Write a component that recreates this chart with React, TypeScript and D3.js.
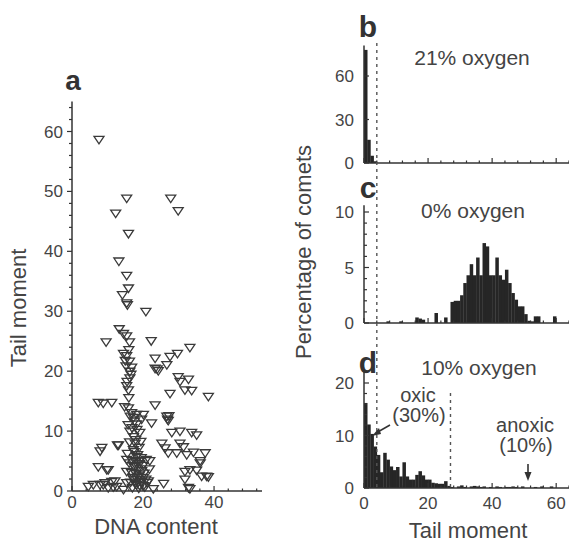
import React from "react";
import * as d3 from "d3";

// panel a: DNA content vs tail moment (one triangle per comet)
const dnaContent = [
  7.6, 12.3, 15.4, 15.9, 27.8, 29.9, 13.2, 15.4, 15.9, 14.2, 15.4,
  15.6, 20.8, 13.3, 14.5, 15.4, 16.2, 9.6, 22.3, 14.5, 15.4, 16.2, 16.8, 23.4, 27.6, 29.7, 33.2,
  26.7, 23.4, 24.3, 16.3, 16.3, 29.9, 32.8, 30.4, 31.8, 33.7, 15.4, 15.9, 27.6, 38.4,
  8.8, 11.2, 7.4, 23.4, 15.9, 16.8, 18.2, 20.1, 17.3, 19.6, 22.4, 26.7, 27.1, 18.2,
  16.3, 19.1, 28.1, 30.4, 33.7, 35.1, 17.3, 17.8, 12.8, 25.3, 26.2, 30.4, 31.4, 27.1, 29.5,
  32.3, 34.2, 37.5, 17.3, 18.2, 15.4, 19.1, 21.9, 17.3, 15.4, 9.8, 36.1, 31.8, 33.2, 35.1,
  37.9, 36.5, 31.8, 18.7, 17.3, 20.1, 21.5, 25.8, 12.1, 9.3, 7.9, 20.1, 22.9, 32.8, 18.2, 11.6,
  7.9, 8.4, 13.1, 7.4, 10.2, 6.0, 8.8, 11.2, 4.6, 12.6, 15.4, 10.2, 14.5,
  33.2, 36.1, 38.4, 26.9, 27.3, 24.0,
  17.5, 18.5, 19.5, 17.0, 18.0, 19.0, 20.0, 17.6, 18.6, 19.6, 16.8, 18.0, 19.0, 20.3, 17.2,
  18.4, 19.6, 20.8, 16.5, 17.8, 19.0, 20.5, 21.2, 18.8, 17.0, 21.8, 20.9, 18.9, 17.9, 19.4,
  16.9, 18.3, 17.6, 16.4, 15.8, 16.2, 15.6, 16.1,
  16.0, 15.5, 16.6, 15.2, 16.0, 15.0, 14.8,
];
const tailMoment = [
  58.6, 46.3, 48.8, 42.9, 48.8, 46.7, 38.3, 35.9, 33.8, 32.7, 31.3,
  31.0, 29.9, 27.0, 26.2, 25.8, 24.8, 24.8, 25.0, 22.9, 22.5, 21.6, 20.6, 22.1, 22.4, 22.9, 23.9,
  21.0, 20.4, 20.0, 19.9, 18.8, 19.0, 18.6, 18.2, 16.8, 16.7, 17.5, 16.8, 16.2, 15.7,
  14.6, 14.7, 14.7, 14.3, 13.8, 13.0, 12.7, 12.7, 12.2, 11.9, 11.3, 12.4, 11.7, 11.1,
  9.9, 9.7, 9.7, 9.9, 9.7, 9.3, 9.0, 7.9, 7.6, 7.9, 7.1, 7.9, 7.3, 6.3, 6.3,
  6.0, 6.4, 6.3, 6.8, 5.7, 5.2, 5.0, 5.0, 4.2, 3.2, 3.5, 5.0, 3.2, 3.5, 3.4,
  2.4, 2.4, 1.9, 2.4, 1.9, 2.2, 1.6, 1.2, 1.6, 1.3, 1.0, 0.8, 0.3, 0.5, 1.0, 0.6,
  6.6, 7.2, 7.6, 4.0, 3.5, 1.0, 1.0, 1.5, 0.7, 0.7, 1.3, 0.5, 0.2,
  0.3, 4.6, 2.3, 11.9, 12.5, 20.3,
  6.5, 6.0, 5.5, 5.0, 4.8, 4.5, 4.2, 4.0, 3.6, 3.3, 3.0, 2.8, 2.6, 2.9, 2.2,
  1.8, 1.5, 1.9, 1.4, 1.2, 0.9, 0.6, 1.3, 0.4, 0.5, 3.6, 5.2, 7.2, 8.5, 8.2,
  10.5, 10.2, 11.6, 12.4, 11.0, 8.1, 6.2, 4.6,
  15.5, 18.2, 19.4, 20.8, 23.5, 21.7, 14.0,
];

// panels b-d: percentage of comets per 1-unit tail moment bin (bin index = start)
const hist21 = [78, 16, 5, 1.2];
const hist0 = [
  0, 0, 0, 0, 0, 0, 0, 0.15, 0, 0, 0, 0.15, 0, 0, 0, 0, 0.5, 0.4, 0.3, 0,
  0, 0, 0.9, 0, 0, 0.5, 0, 1.9, 2.0, 2.0, 2.5, 3.6, 4.3, 5.3, 4.3, 5.9, 4.3, 7.2, 6.9, 4.3,
  4.3, 5.9, 4.3, 3.9, 4.8, 3.6, 2.7, 2.1, 1.5, 1.5, 0.8, 0.2, 0.15, 0.6, 0.6, 0, 0, 0, 0, 0.6,
];
const hist10 = [
  16.2, 12.1, 10.3, 7.9, 6.3, 3.0, 6.7, 5.4, 4.1, 3.4, 4.0, 2.2, 4.9, 2.2, 1.6, 1.6, 2.5, 3.2, 2.4, 1.6,
  1.6, 1.0, 0.9, 0.8, 0.8, 1.3, 0.4, 0.2, 0, 0.3, 0.5, 0.2, 0, 0.3, 0.4, 0.3, 0.2, 0.3, 0, 0.2,
  0, 0.3, 0.2, 0, 0.2, 0.2, 0.3, 0.2, 0, 0.3, 0, 0, 0, 0.2, 0, 0.3, 0, 0, 0.3, 0,
];

const aTicksY = [0, 10, 20, 30, 40, 50, 60];
const aTicksX = [0, 20, 40];
const histTicksX = [0, 20, 40, 60];
const oxicCut = 4;
const anoxicCut = 27;

const ink = "#333";
const txt = "#444";
const font = "'Liberation Sans', Arial, sans-serif";

const App = () => {
  // scales
  const xa = d3.scaleLinear().domain([0, 53.5]).range([72, 262]);
  const ya = d3.scaleLinear().domain([0, 60]).range([491, 131.5]);
  const xh = d3.scaleLinear().domain([0, 64]).range([364, 569]);
  const yb = d3.scaleLinear().domain([0, 60]).range([163, 76]);
  const yc = d3.scaleLinear().domain([0, 10]).range([323, 212]);
  const yd = d3.scaleLinear().domain([0, 20]).range([488, 383]);

  const tri = "M-5,-3.5L5,-3.5L0,4Z";

  const bars = (data, y, key) =>
    data.map((v, i) =>
      v > 0 ? (
        <rect key={key + i} x={xh(i)} y={y(v)} width={xh(i + 1) - xh(i) + 0.3}
          height={y(0) - y(v)} fill="#262626" />
      ) : null
    );

  const histXAxis = (y, key, labels) => (
    <g key={key}>
      <line x1={xh(0)} x2={569} y1={y(0)} y2={y(0)} stroke={ink} strokeWidth={1.5} />
      {d3.range(0, 65, 4).map((t) => (
        <line key={t} x1={xh(t)} x2={xh(t)} y1={y(0)} y2={y(0) - (t % 20 === 0 ? 5 : 2.5)}
          stroke={ink} strokeWidth={1.2} />
      ))}
      {labels && histTicksX.map((t) => (
        <text key={"l" + t} x={xh(t)} y={509} textAnchor="middle" fontSize={17} fill={txt}>{t}</text>
      ))}
    </g>
  );

  const histYAxis = (y, top, major, minor, key) => (
    <g key={key}>
      <line x1={xh(0)} x2={xh(0)} y1={y(0)} y2={y(top)} stroke={ink} strokeWidth={1.5} />
      {d3.range(0, top + 0.01, minor).map((t) => (
        <line key={t} x1={xh(0)} x2={xh(0) + (t % major === 0 ? 5 : 3)} y1={y(t)} y2={y(t)}
          stroke={ink} strokeWidth={1.2} />
      ))}
      {d3.range(0, top + 0.01, major).map((t) => (
        <text key={"l" + t} x={354} y={y(t) + 6} textAnchor="end" fontSize={17} fill={txt}>{t}</text>
      ))}
    </g>
  );

  return (
    <svg width={569} height={543} style={{ position: "absolute", left: 0, top: 0, background: "#fff" }}
      fontFamily={font}>
      {/* ---- panel a ---- */}
      <text x={73} y={90} textAnchor="middle" fontSize={28} fontWeight="bold" fill="#333">a</text>
      <line x1={xa(0)} x2={xa(0)} y1={ya(0)} y2={ya(65)} stroke={ink} strokeWidth={1.5} />
      {d3.range(0, 65, 2).map((t) => (
        <line key={"ay" + t} x1={xa(0)} x2={xa(0) - (t % 10 === 0 ? 5 : 3)} y1={ya(t)} y2={ya(t)}
          stroke={ink} strokeWidth={1.2} />
      ))}
      {aTicksY.map((t) => (
        <text key={"ayl" + t} x={63} y={ya(t) + 6} textAnchor="end" fontSize={17} fill={txt}>{t}</text>
      ))}
      <line x1={xa(0)} x2={xa(53.5)} y1={ya(0)} y2={ya(0)} stroke={ink} strokeWidth={1.5} />
      {d3.range(0, 53, 4).map((t) => (
        <line key={"ax" + t} x1={xa(t)} x2={xa(t)} y1={ya(0)} y2={ya(0) - (t % 20 === 0 ? 5 : 2.5)}
          stroke={ink} strokeWidth={1.2} />
      ))}
      {aTicksX.map((t) => (
        <text key={"axl" + t} x={xa(t)} y={508} textAnchor="middle" fontSize={17} fill={txt}>{t}</text>
      ))}
      {dnaContent.map((d, i) => (
        <path key={"p" + i} d={tri} transform={`translate(${xa(d)},${ya(tailMoment[i])})`}
          fill="none" stroke="#3a3a3a" strokeWidth={1.3} />
      ))}
      <text x={156} y={534} textAnchor="middle" fontSize={22} fill={txt}>DNA content</text>
      <text transform="translate(26,308) rotate(-90)" textAnchor="middle" fontSize={22} fill={txt}>Tail moment</text>

      {/* ---- histograms ---- */}
      <text transform="translate(311,252) rotate(-90)" textAnchor="middle" fontSize={22} fill={txt}>
        Percentage of comets
      </text>

      {/* b */}
      <text x={368} y={37} textAnchor="middle" fontSize={30} fontWeight="bold" fill="#333">b</text>
      <text x={472} y={65} textAnchor="middle" fontSize={21} fill={txt}>21% oxygen</text>
      {bars(hist21, yb, "b")}
      {histYAxis(yb, 81, 30, 30, "by")}
      {histXAxis(yb, "bx", false)}

      {/* c */}
      <text x={368} y={198} textAnchor="middle" fontSize={30} fontWeight="bold" fill="#333">c</text>
      <text x={473} y={218} textAnchor="middle" fontSize={21} fill={txt}>0% oxygen</text>
      {bars(hist0, yc, "c")}
      {histYAxis(yc, 10.6, 5, 1, "cy")}
      {histXAxis(yc, "cx", false)}

      {/* d */}
      <text x={368} y={373} textAnchor="middle" fontSize={30} fontWeight="bold" fill="#333">d</text>
      <text x={479} y={375} textAnchor="middle" fontSize={21} fill={txt}>10% oxygen</text>
      {bars(hist10, yd, "d")}
      {histYAxis(yd, 22.5, 10, 2, "dy")}
      {histXAxis(yd, "dx", true)}
      <text x={418} y={402} textAnchor="middle" fontSize={20} fill={txt}>oxic</text>
      <text x={419} y={422} textAnchor="middle" fontSize={20} fill={txt}>(30%)</text>
      <text x={525} y={432} textAnchor="middle" fontSize={20} fill={txt}>anoxic</text>
      <text x={526} y={452} textAnchor="middle" fontSize={20} fill={txt}>(10%)</text>
      <text x={468} y={538} textAnchor="middle" fontSize={22} fill={txt}>Tail moment</text>

      {/* dashed cut-offs */}
      <line x1={xh(oxicCut)} x2={xh(oxicCut)} y1={43} y2={yd(0)} stroke="#555" strokeWidth={1.4}
        strokeDasharray="3,4" />
      <line x1={xh(anoxicCut)} x2={xh(anoxicCut)} y1={393} y2={yd(0)} stroke="#555" strokeWidth={1.4}
        strokeDasharray="3,4" />

      {/* arrows */}
      <line x1={390} y1={425} x2={376} y2={433} stroke={ink} strokeWidth={1.6} />
      <path d="M372,436 L379,428 L381,434 Z" fill={ink} />
      <line x1={528} y1={464} x2={528} y2={474} stroke={ink} strokeWidth={1.6} />
      <path d="M528,481 L524.5,472 L531.5,472 Z" fill={ink} />
    </svg>
  );
};

export default App;
